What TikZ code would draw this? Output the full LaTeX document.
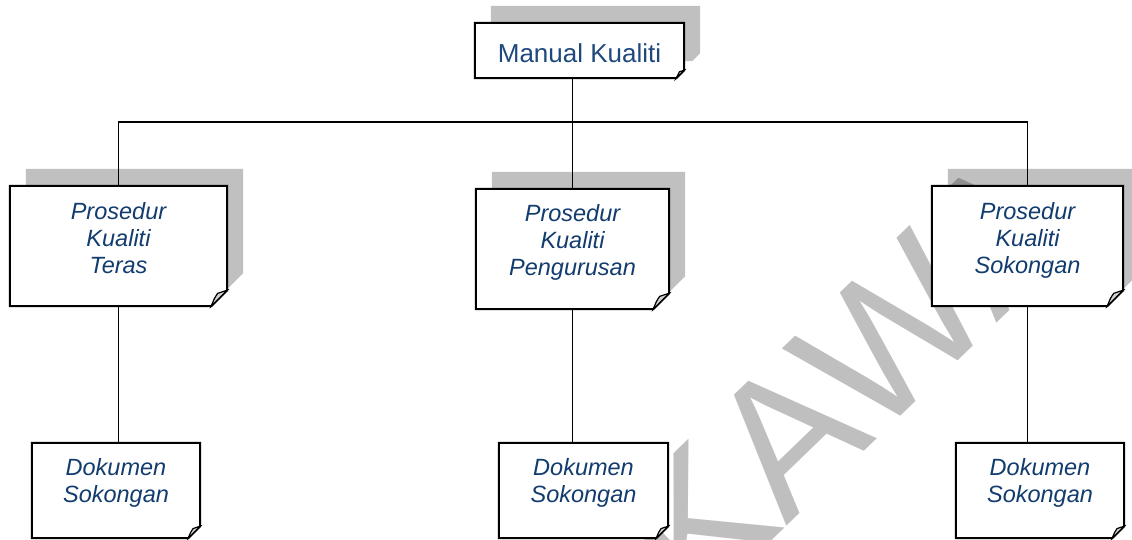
\documentclass[tikz,border=0pt]{standalone}
\usepackage{fontspec}
\setmainfont{Liberation Sans}
\pgfdeclarelayer{back}
\pgfsetlayers{back,main}
\definecolor{shadowgray}{HTML}{C0C0C0}
\definecolor{flap}{HTML}{D0D0D0}
\definecolor{kblue}{HTML}{1F497D}
\definecolor{kdark}{HTML}{123C6E}
\tikzset{
  card/.style={inner sep=0pt, align=center, text=kdark,
    font=\fontsize{23.5}{27}\selectfont\itshape},
  link/.style={line width=1.3pt},
  mark text/.style={inner sep=0pt, text=black, text opacity=0.25,
    font=\fontsize{190}{190}\selectfont},
}
\begin{document}
\begin{tikzpicture}[x=1pt, y=-1pt]
\useasboundingbox (0,0) rectangle (1132,539);
\clip (0,0) rectangle (1132,539);

\node[card, text=kblue, font=\fontsize{26}{30}\selectfont,
  minimum width=209pt, text height=39pt, text depth=16pt]
  (mk) at (579.5,50.5) {Manual Kualiti};

\node[card, minimum width=217pt, text height=87pt, text depth=33pt]
  (pt) at (118.5,246) {Prosedur\\Kualiti\\Teras};
\node[card, minimum width=193pt, text height=86pt, text depth=34pt]
  (pp) at (572.5,249) {Prosedur\\Kualiti\\Pengurusan};
\node[card, minimum width=191pt, text height=87pt, text depth=33pt]
  (ps) at (1027.5,246) {Prosedur\\Kualiti\\Sokongan};

\node[card, minimum width=168pt, text height=59pt, text depth=36pt]
  (d1) at (116,490.5) {Dokumen\\Sokongan};
\node[card, minimum width=169pt, text height=59pt, text depth=36pt]
  (d2) at (583.5,490.5) {Dokumen\\Sokongan};
\node[card, minimum width=168pt, text height=59pt, text depth=36pt]
  (d3) at (1040,490.5) {Dokumen\\Sokongan};

\begin{pgfonlayer}{back}
% shadows
\foreach \n/\f in {mk/8, pt/16, pp/16, ps/16} {
  \fill[shadowgray] ([shift={(16,-17)}]\n.north west)
    -- ([shift={(16,-17)}]\n.north east)
    -- ([shift={(16,-17-\f)}]\n.south east)
    -- ([shift={(16-\f,-17)}]\n.south east)
    -- ([shift={(16,-17)}]\n.south west) -- cycle;
}
\node[mark text, rotate=44] (wm) at (846,378) {KAWA};
% cards with folded corner
\foreach \n/\f in {mk/8, pt/16, pp/16, ps/16, d1/12, d2/12, d3/12} {
  \draw[line width=2pt, fill=white] (\n.north west) -- (\n.north east)
    -- ([shift={(0,-\f)}]\n.south east)
    -- ([shift={(-\f,0)}]\n.south east) -- (\n.south west) -- cycle;
  \draw[line width=1.2pt, fill=flap] ([shift={(-\f,0)}]\n.south east)
    .. controls ([shift={(-0.8*\f,-0.5*\f)}]\n.south east)
    .. ([shift={(-0.6*\f,-0.8*\f)}]\n.south east)
    -- ([shift={(0,-\f)}]\n.south east) -- cycle;
}
\end{pgfonlayer}

% connectors
\coordinate (bus) at (572.5,122);
\draw[link] (pt.north) |- (bus) -| (ps.north);
\draw[link] (mk.south -| pp.north) -- (pp.north);
\draw[link] (pt.south) -- (pt.south |- d1.north);
\draw[link] (pp.south) -- (pp.south |- d2.north);
\draw[link] (ps.south) -- (ps.south |- d3.north);
\end{tikzpicture}
\end{document}
